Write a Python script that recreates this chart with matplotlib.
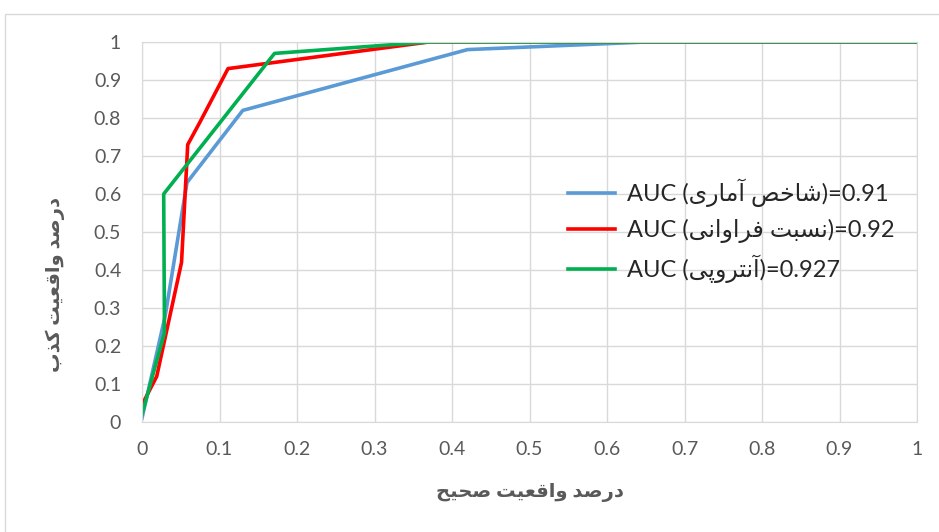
import matplotlib
matplotlib.use("Agg")
import matplotlib.pyplot as plt
from matplotlib.patches import Rectangle
from matplotlib.ticker import FuncFormatter, MultipleLocator

# ROC points
fpr_stat = [0, 0.03, 0.058, 0.13, 0.42, 0.65, 1.0]
tpr_stat = [0.01, 0.28, 0.63, 0.82, 0.98, 1.0, 1.0]

fpr_freq = [0, 0.019, 0.051, 0.059, 0.075, 0.111, 0.37, 1.0]
tpr_freq = [0.045, 0.12, 0.42, 0.73, 0.79, 0.93, 1.0, 1.0]

fpr_ent = [0, 0.029, 0.028, 0.171, 0.37, 1.0]
tpr_ent = [0.02, 0.235, 0.60, 0.97, 1.0, 1.0]

names = ["شاخص آماری", "نسبت فراوانی", "آنتروپی"]
aucs = ["0.91", "0.92", "0.927"]
colors = ["#5B9BD5", "#FF0000", "#00B050"]
xlabel = "درصد واقعیت صحیح"
ylabel = "درصد واقعیت کذب"

# contextual forms: isolated, final, initial, medial (None = does not join forward)
FORMS = {
    "\u0627": ("\uFE8D", "\uFE8E", None, None),
    "\u0622": ("\uFE81", "\uFE82", None, None),
    "\u062F": ("\uFEA9", "\uFEAA", None, None),
    "\u0630": ("\uFEAB", "\uFEAC", None, None),
    "\u0631": ("\uFEAD", "\uFEAE", None, None),
    "\u0648": ("\uFEED", "\uFEEE", None, None),
    "\u0628": ("\uFE8F", "\uFE90", "\uFE91", "\uFE92"),
    "\u062A": ("\uFE95", "\uFE96", "\uFE97", "\uFE98"),
    "\u062D": ("\uFEA1", "\uFEA2", "\uFEA3", "\uFEA4"),
    "\u062E": ("\uFEA5", "\uFEA6", "\uFEA7", "\uFEA8"),
    "\u0633": ("\uFEB1", "\uFEB2", "\uFEB3", "\uFEB4"),
    "\u0634": ("\uFEB5", "\uFEB6", "\uFEB7", "\uFEB8"),
    "\u0635": ("\uFEB9", "\uFEBA", "\uFEBB", "\uFEBC"),
    "\u0639": ("\uFEC9", "\uFECA", "\uFECB", "\uFECC"),
    "\u0641": ("\uFED1", "\uFED2", "\uFED3", "\uFED4"),
    "\u0642": ("\uFED5", "\uFED6", "\uFED7", "\uFED8"),
    "\u0645": ("\uFEE1", "\uFEE2", "\uFEE3", "\uFEE4"),
    "\u0646": ("\uFEE5", "\uFEE6", "\uFEE7", "\uFEE8"),
    "\u067E": ("\uFB56", "\uFB57", "\uFB58", "\uFB59"),
    "\u06A9": ("\uFB8E", "\uFB8F", "\uFB90", "\uFB91"),
    "\u06CC": ("\uFBFC", "\uFBFD", "\uFBFE", "\uFBFF"),
}


def shape(text):
    # join letters and return them in visual (left to right) order
    out = []
    for i, ch in enumerate(text):
        if ch not in FORMS:
            out.append(ch)
            continue
        prev = text[i - 1] if i > 0 else ""
        nxt = text[i + 1] if i + 1 < len(text) else ""
        join_prev = prev in FORMS and FORMS[prev][2] is not None
        join_next = nxt in FORMS and FORMS[ch][2] is not None
        iso, fin, ini, med = FORMS[ch]
        if join_prev and join_next:
            out.append(med)
        elif join_prev:
            out.append(fin)
        elif join_next:
            out.append(ini)
        else:
            out.append(iso)
    return "".join(out[::-1])


FAM = ["Lato", "DejaVu Sans"]
plt.rcParams["font.family"] = FAM

fig = plt.figure(figsize=(9.39, 5.32), dpi=100)
fig.patches.append(Rectangle((0.0053, -0.01), 1.0, 0.9837, transform=fig.transFigure,
                             fill=False, edgecolor="#D9D9D9", linewidth=1.0))
ax = fig.add_axes([142 / 939, 1 - 422 / 532, 775 / 939, 380 / 532])

ax.plot(fpr_stat, tpr_stat, color=colors[0], lw=2.6, label="AUC (" + shape(names[0]) + ")=" + aucs[0])
ax.plot(fpr_freq, tpr_freq, color=colors[1], lw=2.6, label="AUC (" + shape(names[1]) + ")=" + aucs[1])
ax.plot(fpr_ent, tpr_ent, color=colors[2], lw=2.6, label="AUC (" + shape(names[2]) + ")=" + aucs[2])

ax.set_xlim(0, 1)
ax.set_ylim(0, 1)
ax.xaxis.set_major_locator(MultipleLocator(0.1))
ax.yaxis.set_major_locator(MultipleLocator(0.1))
fmt = FuncFormatter(lambda v, p: "{:g}".format(round(v, 2)))
ax.xaxis.set_major_formatter(fmt)
ax.yaxis.set_major_formatter(fmt)
ax.grid(True, color="#D9D9D9", lw=1.0)
ax.set_axisbelow(True)
for s in ax.spines.values():
    s.set_color("#D9D9D9")
ax.tick_params(length=0, labelsize=14, labelcolor="#595959")
ax.tick_params(axis="y", pad=15)
ax.tick_params(axis="x", pad=14)

ax.text(0.5, (422 - 492) / 380, shape(xlabel), transform=ax.transAxes, ha="center", va="center",
        fontsize=14, fontweight="bold", color="#595959")
ax.text((55 - 142) / 775, (422 - 285) / 380, shape(ylabel), transform=ax.transAxes, ha="center",
        va="center", rotation=90, fontsize=14, fontweight="bold", color="#595959")

ax.legend(loc="center left", bbox_to_anchor=((568 - 142) / 775, (422 - 231) / 380),
          frameon=False, fontsize=17, handlelength=2.0, handletextpad=0.5,
          labelspacing=0.5, borderpad=0, borderaxespad=0, labelcolor="#262626")

fig.savefig("out.png", dpi=100)
